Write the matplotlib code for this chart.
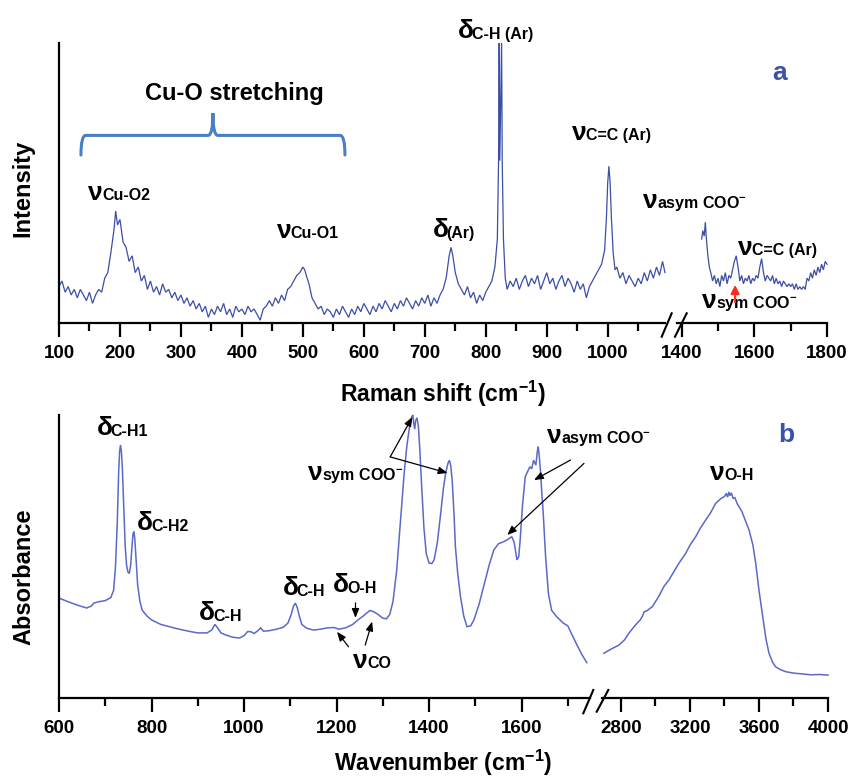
import matplotlib
matplotlib.use('Agg')
import matplotlib.pyplot as plt
from matplotlib.path import Path
from matplotlib.patches import PathPatch
from matplotlib.lines import Line2D
from matplotlib.ticker import FixedLocator

plt.rcParams['font.family'] = ['Liberation Sans', 'DejaVu Sans']
plt.rcParams['font.weight'] = 'bold'
plt.rcParams['mathtext.fontset'] = 'custom'
plt.rcParams['mathtext.rm'] = 'Liberation Sans:bold'
plt.rcParams['mathtext.it'] = 'Liberation Sans:bold'
plt.rcParams['mathtext.bf'] = 'Liberation Sans:bold'

# ---------------- data: (a) Raman ----------------
raman_low = [
    (100, 13), (105, 15), (110, 11), (115, 13), (120, 10), (125, 12), (130, 9), (135, 12), (140, 10), (145, 8),
    (150, 11), (155, 7), (160, 10), (165, 12), (170, 11), (175, 16), (180, 18), (185, 25), (190, 33), (193, 40),
    (196, 35), (200, 37), (205, 29), (210, 27), (215, 22), (220, 24), (225, 18), (230, 20), (235, 15), (240, 17),
    (245, 12), (250, 15), (255, 11), (260, 13), (265, 10), (270, 14), (275, 11), (280, 12), (285, 9), (290, 11),
    (295, 8), (300, 10), (305, 7), (310, 9), (315, 6), (320, 8), (325, 5), (330, 7), (335, 4), (340, 6),
    (345, 2), (350, 5), (355, 3), (360, 6), (365, 4), (370, 7), (375, 3), (380, 5), (385, 2), (390, 6),
    (395, 4), (400, 5), (405, 3), (410, 6), (415, 4), (420, 5), (425, 3), (430, 1), (435, 5), (440, 6),
    (445, 8), (450, 6), (455, 9), (460, 7), (465, 10), (470, 8), (475, 12), (480, 13), (485, 15), (490, 17),
    (495, 18), (500, 20), (503, 19), (507, 16), (510, 14), (515, 9), (520, 7), (525, 5), (530, 6), (535, 3),
    (540, 5), (545, 4), (550, 2), (555, 5), (560, 3), (565, 6), (570, 4), (575, 2), (580, 5), (585, 3),
    (590, 6), (595, 4), (600, 7), (605, 5), (610, 3), (615, 6), (620, 4), (625, 7), (630, 5), (635, 8),
    (640, 6), (645, 4), (650, 7), (655, 5), (660, 8), (665, 6), (670, 9), (675, 7), (680, 5), (685, 8),
    (690, 6), (695, 9), (700, 7), (705, 10), (710, 6), (715, 9), (720, 7), (725, 10), (730, 12), (735, 16),
    (740, 24), (743, 27), (746, 24), (750, 18), (755, 14), (760, 12), (765, 10), (770, 13), (775, 9), (780, 11),
    (785, 7), (790, 10), (795, 8), (800, 11), (805, 13), (810, 15), (815, 20), (819, 30), (821, 58), (822, 100),
    (823, 58), (826, 100), (827, 58), (829, 30), (832, 16), (835, 12), (840, 15), (845, 13), (850, 16), (855, 12),
    (860, 15), (865, 17), (870, 13), (875, 16), (880, 14), (885, 17), (890, 12), (895, 15), (900, 18), (905, 14),
    (910, 16), (915, 12), (920, 15), (925, 17), (930, 13), (935, 16), (940, 14), (945, 11), (950, 15), (955, 12),
    (960, 14), (965, 9), (970, 13), (975, 15), (980, 17), (985, 19), (990, 21), (995, 26), (998, 38), (1000, 50),
    (1002, 56), (1004, 50), (1006, 38), (1009, 25), (1012, 19), (1015, 20), (1020, 16), (1025, 18), (1030, 14),
    (1035, 17), (1040, 15), (1045, 13), (1050, 16), (1055, 14), (1060, 18), (1065, 15), (1070, 19), (1075, 16),
    (1080, 20), (1085, 17), (1090, 22), (1094, 18),
]
raman_high = [
    (1455, 30), (1458, 33), (1462, 31), (1465, 36), (1468, 30), (1472, 24), (1476, 20), (1480, 18), (1485, 15),
    (1490, 17), (1495, 14), (1500, 16), (1505, 13), (1510, 17), (1515, 15), (1520, 18), (1525, 14), (1530, 17),
    (1535, 16), (1540, 19), (1545, 22), (1550, 24), (1555, 20), (1560, 15), (1565, 17), (1570, 14), (1575, 16),
    (1580, 15), (1585, 17), (1590, 14), (1595, 16), (1600, 15), (1605, 17), (1610, 16), (1615, 20), (1620, 23),
    (1625, 18), (1630, 15), (1635, 17), (1640, 16), (1645, 15), (1650, 17), (1655, 14), (1660, 16), (1665, 14),
    (1670, 15), (1675, 13), (1680, 15), (1685, 14), (1690, 13), (1695, 14), (1700, 13), (1705, 14), (1710, 12),
    (1715, 14), (1720, 12), (1725, 13), (1730, 12), (1735, 13), (1740, 12), (1745, 16), (1750, 15), (1755, 18),
    (1760, 16), (1765, 19), (1770, 17), (1775, 20), (1780, 18), (1785, 21), (1790, 19), (1795, 22), (1800, 21),
]

# ---------------- data: (b) IR ----------------
ir_low = [
    (600, 35.3), (620, 34), (640, 32.8), (660, 31.8), (670, 32.5), (675, 33.5), (685, 34), (700, 34.4), (712, 35.5),
    (718, 38), (722, 46), (726, 62), (729, 80), (731, 87), (733, 89.4), (735, 87), (737, 81), (740, 67), (743, 54),
    (746, 47), (749, 44.5), (752, 44), (755, 47), (758, 54), (760, 58), (762, 58.8), (764, 56), (767, 48), (770, 40),
    (775, 34), (780, 31), (790, 29), (800, 27.6), (820, 26), (850, 24.7), (880, 23.6), (900, 23), (920, 23),
    (930, 24), (937, 26), (942, 25), (950, 23), (960, 22.3), (975, 21.5), (990, 21.2), (1000, 22), (1008, 23.5),
    (1015, 23.4), (1022, 22.8), (1030, 23.8), (1036, 24.8), (1042, 23.6), (1055, 23.8), (1070, 24.3), (1085, 25),
    (1095, 26.5), (1102, 29.5), (1107, 32.5), (1111, 33.5), (1115, 32), (1120, 28.7), (1125, 26), (1135, 24.7),
    (1150, 24), (1165, 24.3), (1180, 24.8), (1195, 24.9), (1205, 24.3), (1220, 24.8), (1235, 26), (1248, 27.8),
    (1258, 29), (1265, 30), (1272, 30.9), (1280, 30.5), (1290, 29.5), (1300, 28.2), (1308, 28), (1315, 29.5),
    (1322, 34), (1330, 45), (1338, 62), (1346, 79), (1352, 89), (1358, 96), (1363, 99.5), (1365, 100), (1367, 97),
    (1369, 95), (1371, 98), (1374, 99), (1377, 96), (1380, 88), (1384, 75), (1389, 60), (1394, 51), (1400, 47.7),
    (1406, 47.5), (1411, 48.8), (1418, 55), (1425, 65), (1431, 74), (1436, 79.5), (1441, 83), (1444, 84),
    (1447, 82), (1450, 77), (1454, 65), (1457, 53.5), (1462, 44), (1468, 35.8), (1475, 29), (1482, 25.2),
    (1490, 25.5), (1497, 27.6), (1508, 33), (1518, 39.3), (1530, 47), (1540, 52.3), (1550, 54.5), (1561, 55.2),
    (1570, 56), (1579, 57), (1584, 55), (1590, 48.8), (1594, 50), (1597, 55.8), (1602, 68), (1608, 78.2),
    (1613, 80), (1618, 81.7), (1622, 81), (1626, 84), (1629, 83), (1631, 82.3), (1634, 87), (1636, 88.8),
    (1638, 86), (1641, 80), (1644, 72), (1647, 65), (1652, 50), (1658, 37), (1665, 31), (1676, 28.7),
    (1690, 26.5), (1700, 25.5), (1711, 21.7), (1720, 18.7), (1730, 15.5), (1741, 12.5),
]
ir_high = [
    (2701, 15.8), (2740, 17.2), (2788, 18.7), (2820, 20.5), (2846, 22.9), (2880, 25.5), (2910, 27.5), (2923, 28.7),
    (2935, 30.5), (2950, 30.8), (2982, 32.3), (3020, 36), (3050, 39.5), (3078, 41.7), (3110, 45), (3140, 48),
    (3175, 51.1), (3200, 54), (3233, 57), (3260, 60), (3291, 62.9), (3320, 65.5), (3349, 68.8), (3380, 70.5),
    (3400, 71.2), (3410, 72.3), (3418, 71), (3425, 72.8), (3432, 71.5), (3440, 72.5), (3450, 70.5), (3460, 70.8),
    (3475, 68.5), (3500, 66), (3542, 59.4), (3565, 54), (3581, 47.6), (3600, 38), (3619, 29.9), (3640, 21),
    (3658, 15.8), (3680, 12.5), (3697, 11), (3725, 10), (3755, 9.3), (3800, 8.8), (3852, 8.5), (3900, 8.2),
    (3950, 8.3), (4000, 8.1),
]

raman_xlim = [(100, 1094), (1387, 1800)]
ir_xlim = [(600, 1748), (2690, 4000)]
raman_major = [list(range(100, 1001, 100)), [1400, 1600, 1800]]
raman_minor = [list(range(150, 1100, 100)), [1500, 1700]]
ir_major = [list(range(600, 1601, 200)), [2800, 3200, 3600, 4000]]
ir_minor = [list(range(700, 1701, 200)), [3000, 3400, 3800]]

RAMAN_C = '#3c4ea6'
IR_C = '#5a6ac6'
LABEL_BLUE = '#3b52a8'
BRACE_C = '#4a7fc8'

W, H = 850, 779
fig = plt.figure(figsize=(W / 100, H / 100), dpi=100)


def px_axes(x0, x1, ytop, ybot):
    return fig.add_axes([x0 / W, 1 - ybot / H, (x1 - x0) / W, (ybot - ytop) / H])


axA1 = px_axes(59, 665, 43, 323)
axA2 = px_axes(677, 827, 43, 323)
axB1 = px_axes(59, 590, 415, 698)
axB2 = px_axes(602, 828, 415, 698)


def style(ax, xlim, major, minor, left):
    ax.set_xlim(*xlim)
    ax.set_ylim(0, 100)
    ax.xaxis.set_major_locator(FixedLocator(major))
    ax.xaxis.set_minor_locator(FixedLocator(minor))
    ax.set_yticks([])
    for s in ['top', 'right']:
        ax.spines[s].set_visible(False)
    ax.spines['left'].set_visible(left)
    ax.spines['left'].set_linewidth(1.6)
    ax.spines['bottom'].set_linewidth(1.6)
    ax.tick_params(axis='x', which='major', direction='out', length=10, width=1.6,
                   labelsize=13.5, pad=6)
    ax.tick_params(axis='x', which='minor', direction='out', length=6, width=1.6)
    for lab in ax.get_xticklabels():
        lab.set_fontweight('bold')
    ax.patch.set_alpha(0)


for ax, lim, mj, mn, left in [(axA1, raman_xlim[0], raman_major[0], raman_minor[0], True),
                              (axA2, raman_xlim[1], raman_major[1], raman_minor[1], False),
                              (axB1, ir_xlim[0], ir_major[0], ir_minor[0], True),
                              (axB2, ir_xlim[1], ir_major[1], ir_minor[1], False)]:
    style(ax, lim, mj, mn, left)


def plot_series(ax, data, color, lw):
    xs = [p[0] for p in data]
    ys = [p[1] for p in data]
    ax.plot(xs, ys, color=color, lw=lw, clip_on=False, solid_joinstyle='miter')


plot_series(axA1, raman_low, RAMAN_C, 0.9)
plot_series(axA2, raman_high, RAMAN_C, 0.9)
plot_series(axB1, ir_low, IR_C, 1.1)
plot_series(axB2, ir_high, IR_C, 1.1)

# break marks (figure pixel coords)
for (x1, y1, x2, y2) in [(661.7, 336.7, 671.7, 313.3), (675, 336.7, 686.7, 313.3),
                         (583.3, 713.3, 593.3, 690), (596.7, 711.7, 608.3, 690)]:
    fig.add_artist(Line2D([x1 / W, x2 / W], [1 - y1 / H, 1 - y2 / H], transform=fig.transFigure,
                          color='black', lw=1.5))

SYM = 19
SUB = 11.5


def vlabel(ax, x, y, sym, sub, dx=10, dy=-1):
    ax.text(x, y, sym, fontsize=SYM, fontweight='bold', ha='left', va='baseline', clip_on=False,
            family=['Liberation Sans', 'DejaVu Sans'])
    ax.annotate(sub, xy=(x, y), xycoords='data', xytext=(dx, dy), textcoords='offset points',
                fontsize=SUB, fontweight='bold', ha='left', va='baseline', annotation_clip=False)


# (a) labels
vlabel(axA1, 147.6, 43.9, 'ν', 'Cu-O2', dy=0)
vlabel(axA1, 457.5, 30.4, 'ν', 'Cu-O1', dy=0)
vlabel(axA1, 713, 30.7, 'δ', '(Ar)')
vlabel(axA1, 754, 101.8, 'δ', 'C-H (Ar)')
vlabel(axA1, 941, 65.4, 'ν', 'C=C (Ar)', dy=0)
vlabel(axA1, 1058, 41.1, 'ν', 'asym COO$^{-}$', dy=0)
vlabel(axA2, 1555, 24.3, 'ν', 'C=C (Ar)', dy=0)
vlabel(axA2, 1456, 5.4, 'ν', 'sym COO$^{-}$', dy=0)
axA2.text(1649, 86.8, 'a', fontsize=19, fontweight='bold', color=LABEL_BLUE, va='baseline')
axA1.text(387, 79.6, 'Cu-O stretching', fontsize=17, fontweight='bold', ha='center', va='baseline')
axA2.annotate('', xy=(1547, 14.6), xytext=(1547, 6.5),
              arrowprops=dict(arrowstyle='-|>,head_length=0.5,head_width=0.25', color='#ff2a1a', lw=1.5))

# brace
bL, bR, y0, y1, y2, d = 136, 569, 60, 67, 75, 8
bM = (bL + bR) / 2
verts = [(bL, y0), (bL, y1), (bL + d, y1), (bM - d, y1), (bM, y1), (bM, y2),
         (bM, y1), (bM + d, y1), (bR - d, y1), (bR, y1), (bR, y0)]
codes = [Path.MOVETO, Path.CURVE3, Path.CURVE3, Path.LINETO, Path.CURVE3, Path.CURVE3,
         Path.CURVE3, Path.CURVE3, Path.LINETO, Path.CURVE3, Path.CURVE3]
axA1.add_patch(PathPatch(Path(verts, codes), fill=False, edgecolor=BRACE_C, lw=2.2, capstyle='round'))

# (b) labels
vlabel(axB1, 682, 92.9, 'δ', 'C-H1')
vlabel(axB1, 769, 59.4, 'δ', 'C-H2')
vlabel(axB1, 903, 27.6, 'δ', 'C-H')
vlabel(axB1, 1083, 36.4, 'δ', 'C-H')
vlabel(axB1, 1193, 37.5, 'δ', 'O-H')
vlabel(axB1, 1236, 10.6, 'ν', 'CO', dy=0)
vlabel(axB1, 1139, 77, 'ν', 'sym COO$^{-}$', dy=0)
vlabel(axB1, 1656, 90.1, 'ν', 'asym COO$^{-}$', dy=0)
vlabel(axB2, 3316, 77, 'ν', 'O-H', dy=0)
axB2.text(3710, 90.5, 'b', fontsize=19, fontweight='bold', color=LABEL_BLUE, va='baseline')

arrow_kw = dict(arrowstyle='-|>,head_length=0.55,head_width=0.22', color='black', lw=0.9,
                shrinkA=0, shrinkB=0)
for (tx, ty, hx, hy) in [(1316, 85.2, 1364, 99.3), (1316, 85.2, 1440, 79.5),
                         (1706, 84.1, 1627, 77), (1735, 82.9, 1569, 57.6),
                         (1241, 33.6, 1241, 28.3),
                         (1226, 18.1, 1201, 23.4), (1262, 18.7, 1277, 27)]:
    axB1.annotate('', xy=(hx, hy), xytext=(tx, ty), arrowprops=arrow_kw, annotation_clip=False)

# axis titles
fig.text(443 / W, 1 - 402 / H, 'Raman shift (cm$^{-1}$)', ha='center', va='baseline', fontsize=16.5,
         fontweight='bold')
fig.text(443 / W, 1 - 771 / H, 'Wavenumber (cm$^{-1}$)', ha='center', va='baseline', fontsize=16.5,
         fontweight='bold')
fig.text(22.6 / W, 1 - 188 / H, 'Intensity', rotation=90, ha='center', va='center', fontsize=17,
         fontweight='bold')
fig.text(24 / W, 1 - 577 / H, 'Absorbance', rotation=90, ha='center', va='center', fontsize=17,
         fontweight='bold')

fig.savefig('out.png', dpi=100)
